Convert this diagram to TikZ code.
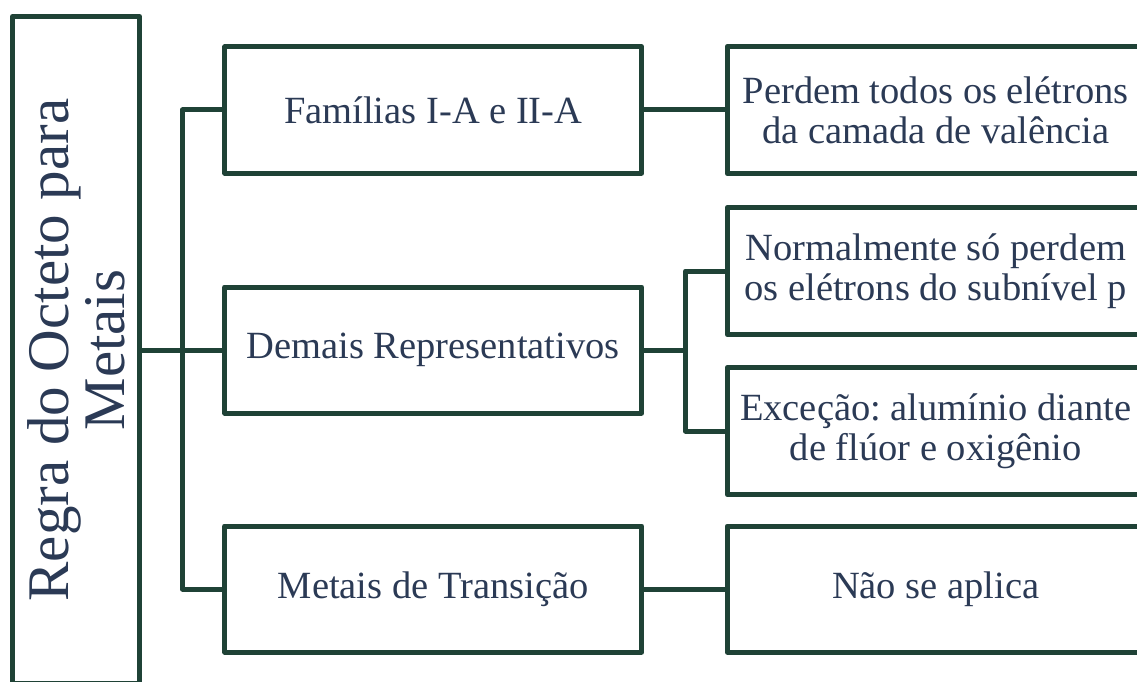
\documentclass[tikz,border=0pt]{standalone}
\usepackage{fontspec}
\setmainfont{Liberation Serif}
\frenchspacing
\definecolor{lc}{HTML}{1F4236}
\definecolor{tc}{HTML}{2B3A55}
\begin{document}
\begin{tikzpicture}[x=1pt,y=-1pt,
  box/.style={draw=lc, line width=5pt, line join=round, minimum width=417pt, minimum height=126pt,
    inner sep=0pt, align=center, text=tc, font=\fontsize{38.5}{40}\selectfont},
  mainbox/.style={draw=lc, line width=5pt, line join=round, minimum width=667pt, minimum height=127pt,
    inner sep=0pt, align=center, text=tc, font=\fontsize{59}{56}\selectfont},
  conn/.style={draw=lc, line width=5pt, line join=round}]
\useasboundingbox (0,0) rectangle (1137,682);
\clip (0,0) rectangle (1137,682);
\fill[white] (0,0) rectangle (1137,682);
\node[mainbox, rotate=90] (L) at (76,350) {Regra do Octeto para\\Metais};
\node[box] (M1) at (433.25,110) {Famílias I-A e II-A};
\node[box] (M2) at (433.25,350) {Demais Representativos};
\node[box] (M3) at (433.25,589) {Metais de Transição};
\node[box, minimum height=127pt] (R1) at (935.75,110) {Perdem todos os elétrons\\da camada de valência};
\node[box, minimum height=127pt] (R2) at (935.75,271) {Normalmente só perdem\\os elétrons do subnível p};
\node[box, minimum height=127pt] (R3) at (935.75,431) {Exceção: alumínio diante\\de flúor e oxigênio};
\node[box] (R4) at (935.75,589) {Não se aplica};
\coordinate (b1) at (182.5,350);
\coordinate (b2) at (685.5,350);
\draw[conn] (L.south) -- (M2.west);
\draw[conn] (M1.west) -| (b1) |- (M3.west);
\draw[conn] (M1.east) -- (R1.west);
\draw[conn] (M3.east) -- (R4.west);
\draw[conn] (M2.east) -- (b2);
\draw[conn] (R2.west) -| (b2) |- (R3.west);
\end{tikzpicture}
\end{document}
